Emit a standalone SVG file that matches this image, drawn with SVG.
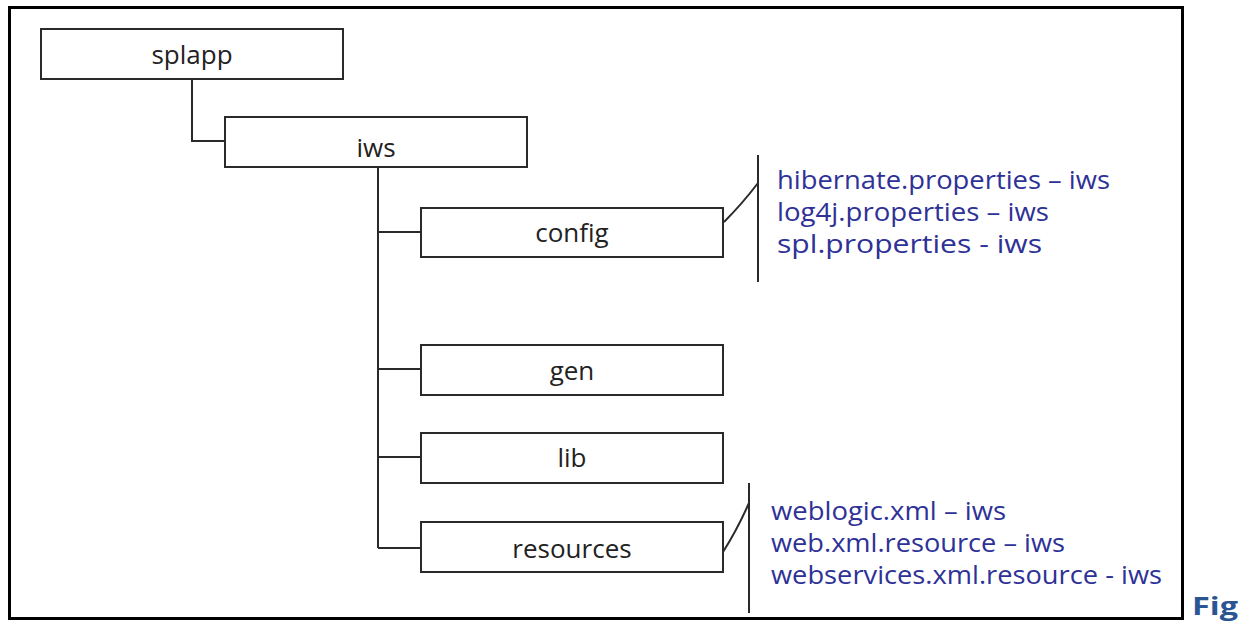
<svg xmlns="http://www.w3.org/2000/svg" width="1247" height="623" viewBox="0 0 1247 623">
<style>
.box{fill:#fff;stroke:#2a2a2a;stroke-width:2}
.lbl{font-family:"Open Sans","Liberation Sans",sans-serif;font-size:26px;fill:#222;text-anchor:middle}
.note{font-family:"Open Sans","Liberation Sans",sans-serif;font-size:25px;fill:#2e3196}
.ln{fill:none;stroke:#2a2a2a;stroke-width:2}
</style>
<rect width="1247" height="623" fill="#fff"/>
<rect x="9.5" y="7.5" width="1173" height="611" fill="none" stroke="#000" stroke-width="3"/>
<g id="connectors">
<path class="ln" d="M192 79 V141 H225"/>
<path class="ln" d="M378 167 V548"/>
<path class="ln" d="M378 232 H421 M378 369 H421 M378 457 H421 M378 548 H421"/>
<path class="ln" d="M758 155 V282"/>
<path class="ln" d="M724 222 Q742 204 758 183"/>
<path class="ln" d="M749 483 V613"/>
<path class="ln" d="M723 552 Q737 530 749 503"/>
</g>
<g id="splapp"><rect class="box" x="41" y="29" width="302" height="50"/><text class="lbl" x="192" y="64">splapp</text></g>
<g id="iws"><rect class="box" x="225" y="117" width="302" height="50"/><text class="lbl" x="376" y="157">iws</text></g>
<g id="config"><rect class="box" x="421" y="208" width="302" height="49"/><text class="lbl" x="572" y="242">config</text></g>
<g id="gen"><rect class="box" x="421" y="345" width="302" height="50"/><text class="lbl" x="572" y="380">gen</text></g>
<g id="lib"><rect class="box" x="421" y="433" width="302" height="50"/><text class="lbl" x="572" y="467">lib</text></g>
<g id="resources"><rect class="box" x="421" y="522" width="302" height="50"/><text class="lbl" x="572" y="558">resources</text></g>
<g id="config-files">
<text class="note" x="777" y="189" textLength="333" lengthAdjust="spacingAndGlyphs">hibernate.properties – iws</text>
<text class="note" x="777" y="221" textLength="272" lengthAdjust="spacingAndGlyphs">log4j.properties – iws</text>
<text class="note" x="777" y="253" textLength="265" lengthAdjust="spacingAndGlyphs">spl.properties - iws</text>
</g>
<g id="resource-files">
<text class="note" x="771" y="520" textLength="235" lengthAdjust="spacingAndGlyphs">weblogic.xml – iws</text>
<text class="note" x="771" y="552" textLength="294" lengthAdjust="spacingAndGlyphs">web.xml.resource – iws</text>
<text class="note" x="771" y="584" textLength="391" lengthAdjust="spacingAndGlyphs">webservices.xml.resource - iws</text>
</g>
<text x="1192" y="615" font-family="'Open Sans','Liberation Sans',sans-serif" font-size="25" font-weight="bold" fill="#2a5592" textLength="46" lengthAdjust="spacingAndGlyphs">Fig</text>
</svg>
